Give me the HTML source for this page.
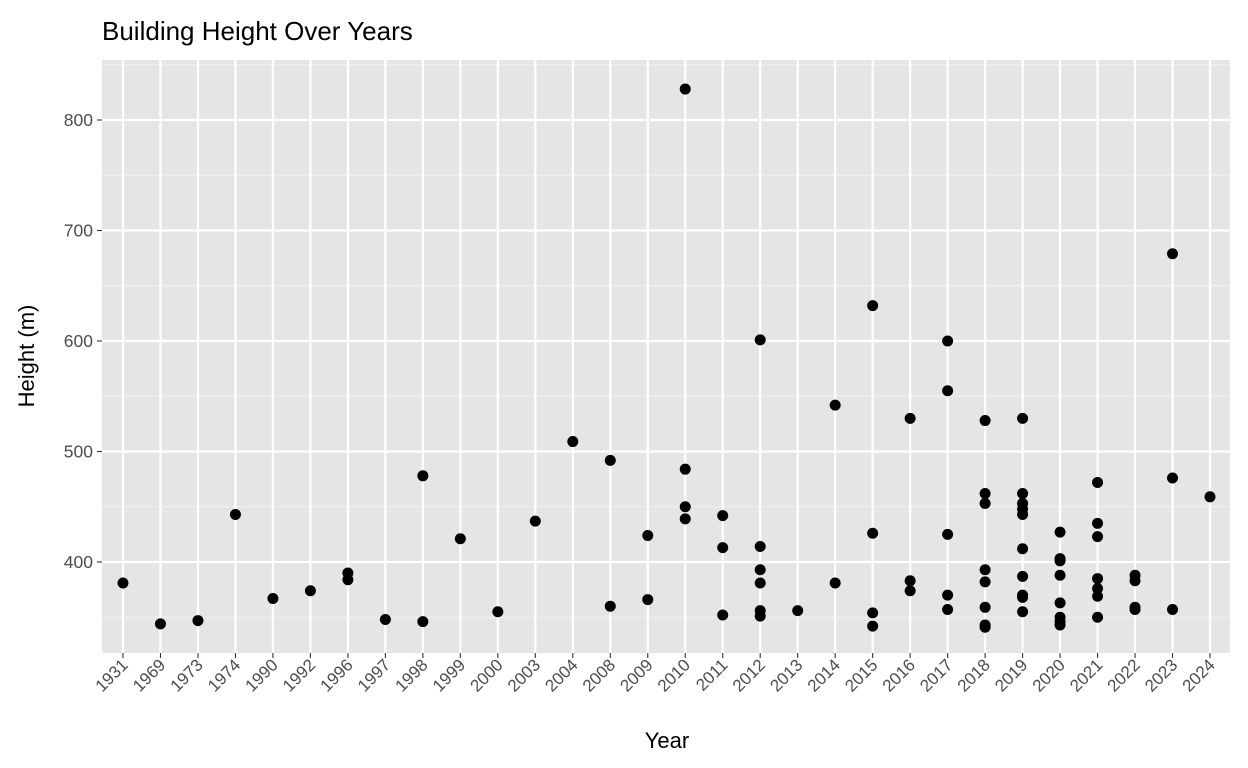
<!DOCTYPE html>
<html><head><meta charset="utf-8"><style>
body{margin:0;background:#fff;}
svg{display:block;font-family:"Liberation Sans",Arial,sans-serif;}
</style></head><body>
<svg id="chart" width="1248" height="768">
<text x="102" y="40" font-size="26" fill="#000">Building Height Over Years</text>
<rect x="102" y="60" width="1128" height="593" fill="#e5e5e5"/>
<g id="grid"></g><g id="pts"></g><g id="axes"></g>
<text x="667" y="748" font-size="22" text-anchor="middle">Year</text>
<text transform="translate(34,356) rotate(-90)" font-size="22" text-anchor="middle">Height (m)</text>
</svg>
<script>
const years=["1931","1969","1973","1974","1990","1992","1996","1997","1998","1999","2000","2003","2004","2008","2009","2010","2011","2012","2013","2014","2015","2016","2017","2018","2019","2020","2021","2022","2023","2024"];
const pointYears=["1931","1969","1973","1974","1990","1992","1996","1996","1997","1998","1998","1999","2000","2003","2004","2008","2008","2009","2009","2010","2010","2010","2010","2011","2011","2011","2012","2012","2012","2012","2012","2012","2013","2014","2014","2015","2015","2015","2015","2016","2016","2016","2017","2017","2017","2017","2017","2018","2018","2018","2018","2018","2018","2018","2018","2019","2019","2019","2019","2019","2019","2019","2019","2019","2019","2020","2020","2020","2020","2020","2020","2020","2020","2021","2021","2021","2021","2021","2021","2021","2022","2022","2022","2022","2023","2023","2023","2024"];
const heights=[381,344,347,443,367,374,390,384,348,478,346,421,355,437,509,492,360,424,366,828,484,450,439,442,413,352,601,414,393,381,356,351,356,542,381,632,426,354,342,530,383,374,600,555,425,370,357,528,462,453,393,382,359,343,341,530,462,453,448,443,412,387,370,368,355,427,403,401,388,363,350,346,343,472,435,423,385,376,369,350,388,383,359,357,679,476,357,459];
const yTicks=[400,500,600,700,800];
const yMinor=[350,450,550,650,750,850];
const NS="http://www.w3.org/2000/svg";
const X=i=>123+i*(1210-123)/(years.length-1);
const Y=v=>562-(v-400)*1.105;
function mk(tag,attrs,parent){const e=document.createElementNS(NS,tag);for(const k in attrs)e.setAttribute(k,attrs[k]);parent.appendChild(e);return e;}
const g=document.getElementById('grid'),p=document.getElementById('pts'),a=document.getElementById('axes');
yMinor.forEach(v=>{const l=mk('line',{x1:102,x2:1230,y1:Y(v),y2:Y(v),stroke:'#f2f2f2','stroke-width':1.1},g);

});
yTicks.forEach(v=>{const l=mk('line',{x1:102,x2:1230,y1:Y(v),y2:Y(v),stroke:'#fff','stroke-width':2.2},g);


const t=mk('line',{x1:97,x2:102,y1:Y(v),y2:Y(v),stroke:'#333','stroke-width':1.1},a);


const tx=mk('text',{x:93,y:Y(v)+6,'text-anchor':'end','font-size':17.5,fill:'#4d4d4d'},a);tx.textContent=v;

});
years.forEach((yr,i)=>{const x=X(i);
const l=mk('line',{x1:x,x2:x,y1:60,y2:653,stroke:'#fff','stroke-width':2.2},g);


const t=mk('line',{x1:x,x2:x,y1:653,y2:658,stroke:'#333','stroke-width':1.1},a);


const tx=mk('text',{transform:`translate(${x+6},${666}) rotate(-45)`,'text-anchor':'end','font-size':17,fill:'#4d4d4d'},a);tx.textContent=yr;

});
heights.forEach((h,i)=>{const c=mk('circle',{cx:X(years.indexOf(pointYears[i])),cy:Y(h),r:5.5,fill:'#000'},p);

});
</script>
</body></html>
